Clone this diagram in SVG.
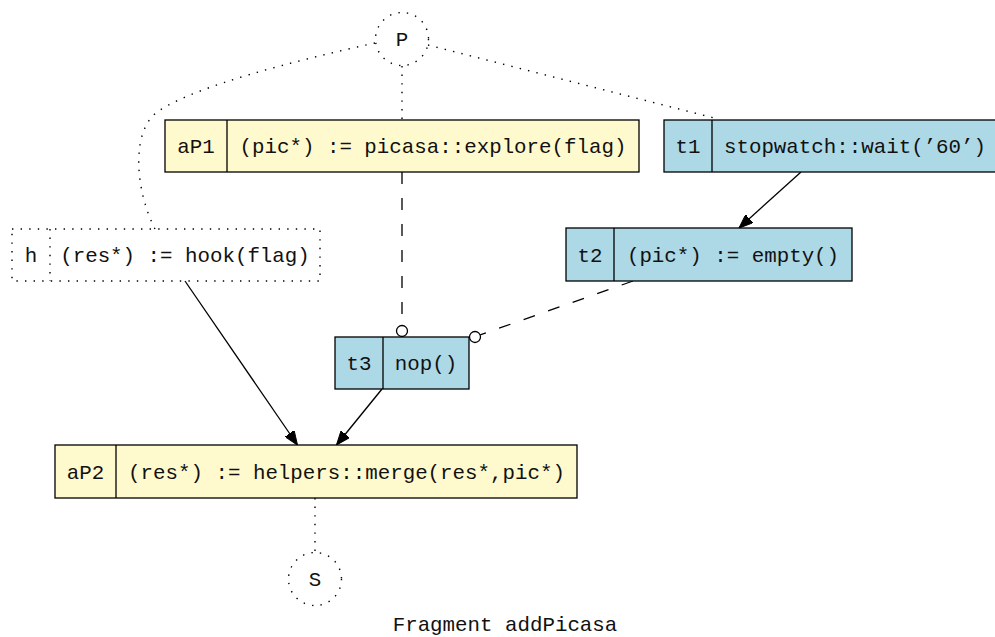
<svg xmlns="http://www.w3.org/2000/svg" width="995" height="637" viewBox="0 0 995 637">
<style>
text{font-family:"Liberation Mono","Courier New",monospace;font-size:20.8px;fill:#111;text-anchor:middle}
.y{fill:#fffacd;stroke:#000;stroke-width:1.3}
.b{fill:#add8e6;stroke:#000;stroke-width:1.3}
.dv{stroke:#000;stroke-width:1.3;fill:none}
.dot{fill:none;stroke:#000;stroke-width:1.4;stroke-dasharray:1.4,7.2}
.dash{fill:none;stroke:#000;stroke-width:1.3;stroke-dasharray:12,14}
.sol{fill:none;stroke:#000;stroke-width:1.3}
.od{fill:#fff;stroke:#000;stroke-width:1.3}
</style>
<defs>
<marker id="ar" markerUnits="userSpaceOnUse" markerWidth="15" markerHeight="11" refX="14" refY="5.5" orient="auto" viewBox="0 0 15 11">
<path d="M0,0 L14,5.5 L0,11 z" fill="#000" stroke="#000" stroke-width="1"/>
</marker>
</defs>
<rect width="995" height="637" fill="#fff"/>
<g id="connectors">
<path class="dot" d="M402,66 L402,120"/>
<path class="dot" d="M428,45 L718,119"/>
<path class="dot" d="M375,43 C290,62 200,85 160,110 C130,128 135,190 155,229"/>
<path class="dash" d="M402,172 L402,325"/>
<circle class="od" cx="402" cy="331" r="5.5"/>
<path class="dash" d="M633,281 L480.2,334.9"/>
<circle class="od" cx="475" cy="337" r="5.5"/>
<path class="sol" d="M801,172 L739,228" marker-end="url(#ar)"/>
<path class="sol" d="M185,281 L297.5,445" marker-end="url(#ar)"/>
<path class="sol" d="M382,389 L336.5,445" marker-end="url(#ar)"/>
<path class="dot" d="M315,498 L315,553"/>
</g>
<g id="P">
<circle class="dot" cx="402" cy="39" r="26.5"/>
<text x="402" y="46">P</text>
</g>
<g id="aP1">
<rect class="y" x="165" y="120" width="474" height="52"/>
<line class="dv" x1="227" y1="120" x2="227" y2="172"/>
<text x="196" y="153">aP1</text>
<text x="433" y="153">(pic*) := picasa::explore(flag)</text>
</g>
<g id="t1">
<rect class="b" x="664" y="120" width="336" height="52"/>
<line class="dv" x1="712" y1="120" x2="712" y2="172"/>
<text x="688" y="153">t1</text>
<text x="855" y="153">stopwatch::wait(’60’)</text>
</g>
<g id="h">
<rect class="dot" x="12" y="229" width="308" height="52"/>
<line class="dot" x1="50" y1="229" x2="50" y2="281"/>
<text x="31" y="262">h</text>
<text x="185" y="262">(res*) := hook(flag)</text>
</g>
<g id="t2">
<rect class="b" x="566" y="228" width="286" height="53"/>
<line class="dv" x1="614" y1="228" x2="614" y2="281"/>
<text x="590" y="262">t2</text>
<text x="733" y="262">(pic*) := empty()</text>
</g>
<g id="t3">
<rect class="b" x="335" y="337" width="134" height="52"/>
<line class="dv" x1="383" y1="337" x2="383" y2="389"/>
<text x="359" y="370">t3</text>
<text x="426" y="370">nop()</text>
</g>
<g id="aP2">
<rect class="y" x="55" y="445" width="522" height="53"/>
<line class="dv" x1="116" y1="445" x2="116" y2="498"/>
<text x="85.5" y="479">aP2</text>
<text x="346.5" y="479">(res*) := helpers::merge(res*,pic*)</text>
</g>
<g id="S">
<circle class="dot" cx="315" cy="579" r="26.5"/>
<text x="315" y="586">S</text>
</g>
<text x="505" y="631">Fragment addPicasa</text>
</svg>
